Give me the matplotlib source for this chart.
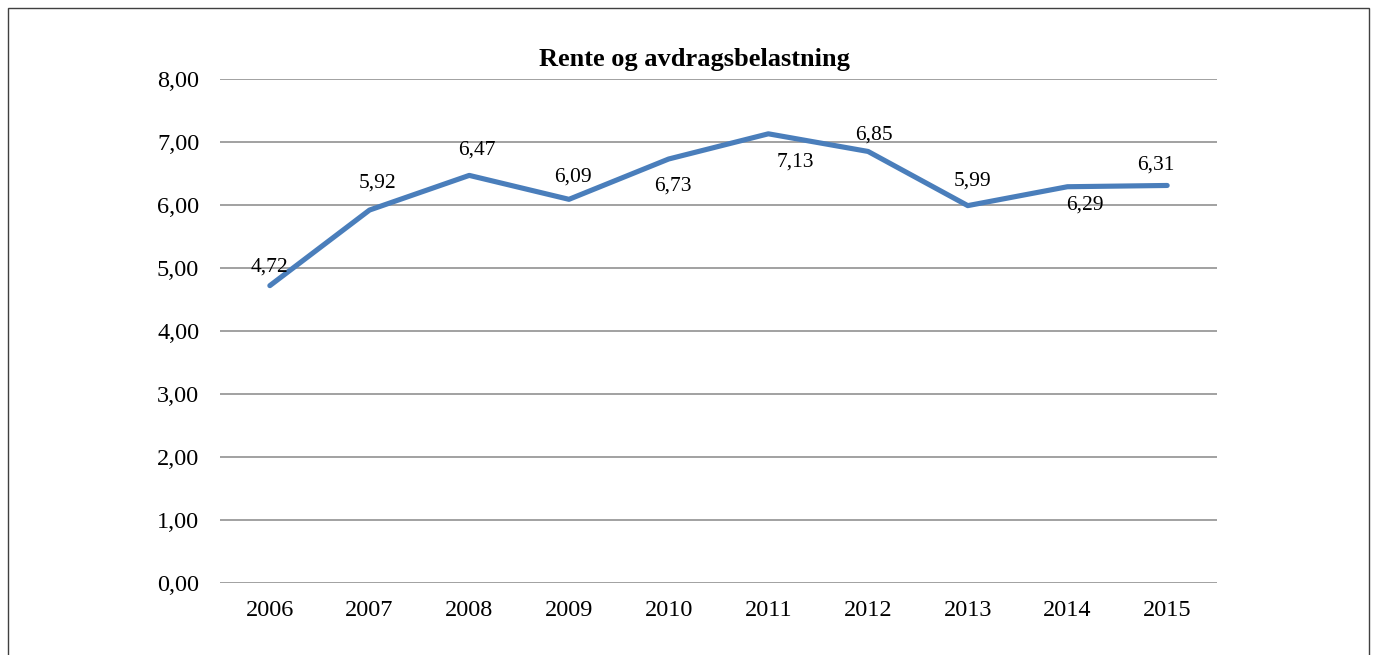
import matplotlib
matplotlib.use("Agg")
import matplotlib.pyplot as plt
from matplotlib.patches import Rectangle

years = ["2006", "2007", "2008", "2009", "2010", "2011", "2012", "2013", "2014", "2015"]
values = [4.72, 5.92, 6.47, 6.09, 6.73, 7.13, 6.85, 5.99, 6.29, 6.31]
value_labels = ["4,72", "5,92", "6,47", "6,09", "6,73", "7,13", "6,85", "5,99", "6,29", "6,31"]
yticks = [0, 1, 2, 3, 4, 5, 6, 7, 8]
ytick_labels = ["0,00", "1,00", "2,00", "3,00", "4,00", "5,00", "6,00", "7,00", "8,00"]
title = "Rente og avdragsbelastning"

# label offsets in pixels (dx, dy) relative to each point
label_offsets = [(0, 19), (8, 27), (8, 25), (4, 22), (4, -27), (27, -28), (6, 16), (5, 25), (17, -18), (-11, 20)]

plt.rcParams['font.family'] = ['Liberation Serif', 'DejaVu Serif']

fig = plt.figure(figsize=(13.75, 6.55), dpi=100)
ax = fig.add_axes([0.16, 0.1099, 0.7251, 0.7695])

x = list(range(len(years)))
ax.plot(x, values, color="#4A7EBB", linewidth=3.7, solid_capstyle="round", solid_joinstyle="round", zorder=3)

for xi, v, lab, (dx, dy) in zip(x, values, value_labels, label_offsets):
    ax.annotate(lab, (xi, v), xytext=(dx, dy), textcoords="offset pixels",
                ha="center", va="center", fontsize=15.5, color="black", zorder=4)

ax.set_xlim(-0.5, len(years) - 0.5)
ax.set_ylim(0, 8)
ax.set_yticks(yticks)
ax.set_yticklabels(ytick_labels)
ax.set_xticks(x)
ax.set_xticklabels(years)
ax.tick_params(axis="y", length=0, pad=15, labelsize=17.5)
ax.tick_params(axis="x", length=0, pad=12, labelsize=17.5)
ax.yaxis.grid(True, color="#888888", linewidth=1.1)
ax.set_axisbelow(True)
for s in ax.spines.values():
    s.set_visible(False)

fig.text(0.5047, 0.909, title, ha="center", va="center", fontsize=19, fontweight="bold")

# outer chart border
border = Rectangle((8 / 1375, -0.05), (1369 - 8) / 1375, 1.05 - 8 / 655,
                   transform=fig.transFigure, fill=False, edgecolor="#404040",
                   linewidth=1.0, clip_on=False)
fig.patches.append(border)

fig.savefig("out.png", dpi=100)
